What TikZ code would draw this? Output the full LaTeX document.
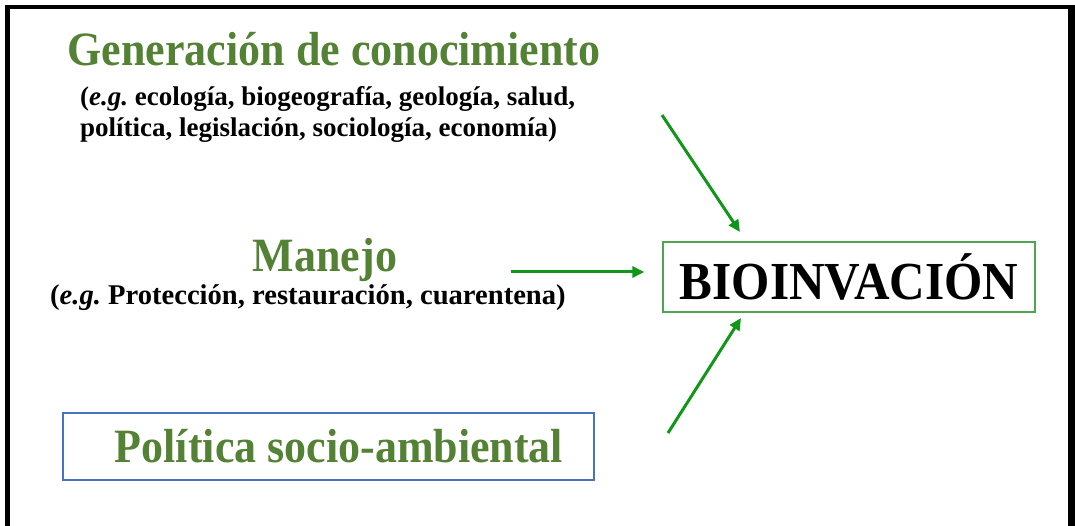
\documentclass[tikz,border=0pt]{standalone}
\usepackage{fontspec}
\setmainfont{Liberation Serif}
\newfontfamily\estrecha{Liberation Serif}[FakeStretch=0.92]
\usetikzlibrary{positioning,arrows.meta}
\definecolor{verdetexto}{RGB}{84,130,53}
\definecolor{verdeflecha}{RGB}{16,150,24}
\definecolor{verdemarco}{RGB}{80,165,80}
\definecolor{azulmarco}{RGB}{72,114,196}
\begin{document}
\begin{tikzpicture}[x=1pt,y=-1pt,
  titulo/.style={text=verdetexto,font=\estrecha\bfseries\fontsize{47.8}{52}\selectfont,inner sep=0pt},
  ejemplo/.style={font=\bfseries\fontsize{27}{31}\selectfont,align=left,inner sep=0pt},
  flecha/.style={-{Triangle[length=12pt,width=11pt]},line width=3pt,verdeflecha}]
  \useasboundingbox (0,0) rectangle (1075,526);
  % marco
  \draw[line width=4.5pt] (7.5,540) -- (7.5,7) -- (1070,7);
  \draw[line width=7pt] (1071.5,4.75) -- (1071.5,540);
  % textos de la izquierda
  \node[titulo,anchor=base] (gen) at (334,66) {Generación de conocimiento};
  \node[ejemplo,anchor=base west] (genej) at (80,137)
    {(\textit{e.g.}\ ecología, biogeografía, geología, salud,\\
     política, legislación, sociología, economía)};
  \node[titulo,anchor=base] (man) at (325,272) {Manejo};
  \node[ejemplo,font=\bfseries\fontsize{28.6}{31}\selectfont,anchor=base west] (manej) at (50,305)
    {(\textit{e.g.}\ Protección, restauración, cuarentena)};
  \node[draw=azulmarco,line width=2.5pt,minimum width=531pt,minimum height=67pt,
    titulo,inner sep=0pt] (pol) at (328.5,446.5) {\hspace*{21pt}Política socio-ambiental};
  % caja central
  \node[draw=verdemarco,line width=1.3pt,minimum width=372pt,minimum height=70pt,
    font=\estrecha\bfseries\fontsize{53.5}{58}\selectfont,inner sep=0pt] (bio) at (849,277) {BIOINVACIÓN};
  % flechas
  \coordinate (c1) at (662,115);
  \coordinate (p1) at (740,232);
  \coordinate (c2) at (511,272);
  \coordinate (c3) at (668,433);
  \coordinate (p3) at (741,318);
  \draw[flecha] (c1) -- (p1);
  \draw[flecha,shorten >=18pt] (c2) -- (c2 -| bio.west);
  \draw[flecha] (c3) -- (p3);
\end{tikzpicture}
\end{document}
